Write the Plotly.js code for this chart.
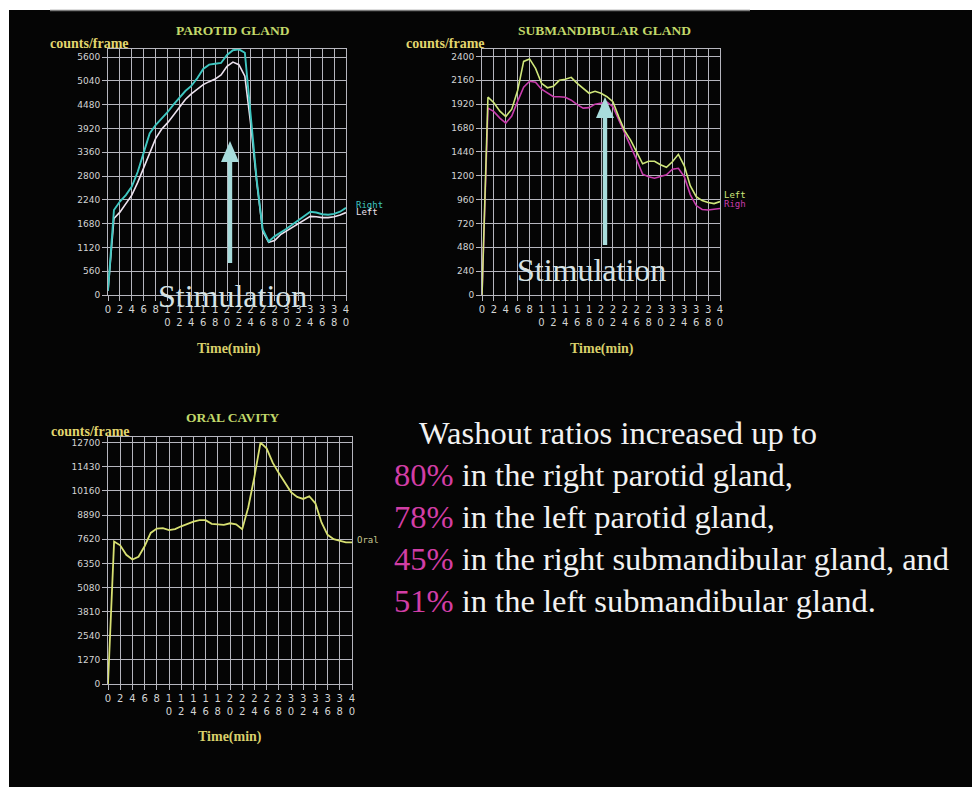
<!DOCTYPE html>
<html>
<head>
<meta charset="utf-8">
<script src="https://cdn.plot.ly/plotly-3.0.1.min.js"></script>
<style>
html,body{margin:0;padding:0;background:#fff;}
#chart{width:972px;height:787px;}
</style>
</head>
<body>
<div id="chart"></div>
<script>
// ---------- data ----------
const time = [0,1,2,3,4,5,6,7,8,9,10,11,12,13,14,15,16,17,18,19,20,21,22,23,24,25,26,27,28,29,30,31,32,33,34,35,36,37,38,39,40];
const xTickVals = [0,2,4,6,8,10,12,14,16,18,20,22,24,26,28,30,32,34,36,38,40];
const xTickText = ['0','2','4','6','8','1<br>0','1<br>2','1<br>4','1<br>6','1<br>8','2<br>0','2<br>2','2<br>4','2<br>6','2<br>8','3<br>0','3<br>2','3<br>4','3<br>6','3<br>8','4<br>0'];

const parotidTicks = [0,560,1120,1680,2240,2800,3360,3920,4480,5040,5600];
const subTicks = [0,240,480,720,960,1200,1440,1680,1920,2160,2400];
const oralTicks = [0,1270,2540,3810,5080,6350,7620,8890,10160,11430,12700];

const parotidRight = [100,2000,2200,2350,2550,2900,3350,3800,4000,4150,4300,4480,4650,4800,4920,5100,5320,5420,5440,5460,5650,5760,5780,5700,4200,2700,1550,1260,1380,1460,1560,1660,1760,1850,1960,1940,1900,1890,1910,1960,2050];
const parotidLeft  = [100,1800,1950,2150,2350,2650,3000,3350,3680,3900,4050,4230,4420,4600,4730,4850,4950,5020,5080,5180,5380,5480,5420,5150,4000,2650,1500,1240,1280,1420,1510,1600,1680,1760,1850,1840,1820,1820,1840,1880,1940];

const subLeft  = [0,1990,1935,1850,1795,1870,2060,2350,2375,2280,2130,2085,2100,2160,2170,2190,2130,2080,2030,2050,2030,1995,1945,1790,1650,1555,1440,1320,1345,1345,1310,1285,1340,1415,1300,1100,990,950,930,920,940];
const subRight = [0,1880,1845,1780,1730,1800,1950,2090,2150,2140,2070,2030,1995,1995,1990,1960,1915,1880,1885,1920,1930,1940,1895,1760,1640,1500,1360,1215,1190,1175,1190,1210,1265,1275,1190,1010,900,860,855,860,870];

const oral = [0,7500,7300,6800,6550,6700,7250,7950,8180,8200,8100,8150,8300,8420,8550,8620,8620,8430,8390,8380,8460,8400,8150,9300,10900,12700,12400,11650,11100,10600,10100,9850,9740,9880,9510,8500,7850,7620,7550,7450,7450];

const textLines = [
  {lead:'', rest:'Washout ratios increased up to'},
  {lead:'80%', rest:' in the right parotid gland,'},
  {lead:'78%', rest:' in the left parotid gland,'},
  {lead:'45%', rest:' in the right submandibular gland, and'},
  {lead:'51%', rest:' in the left submandibular gland.'}
];

// ---------- helpers ----------
const W = 972, H = 787;
const PX = x => x / W;
const PY = y => 1 - y / H;

const gridCol = '#b6b6be';
const tickFontY = {family:'DejaVu Sans', size:9, color:'#d4d4d4'};
const tickFontX = {family:'DejaVu Sans', size:10, color:'#d4d4d4'};

function xAxis(l, r, anchor){
  return {domain:[PX(l),PX(r)], anchor:anchor, range:[0,40], tickmode:'array',
    tickvals:xTickVals, ticktext:xTickText, tickangle:0,
    showgrid:true, gridcolor:gridCol, gridwidth:1, zeroline:false,
    showline:true, mirror:true, linecolor:gridCol, linewidth:1,
    ticks:'outside', ticklen:5, tickcolor:gridCol, tickfont:tickFontX, fixedrange:true};
}
function yAxis(top, bottom, max, ticks, anchor){
  return {domain:[PY(bottom),PY(top)], anchor:anchor, range:[0,max], tickmode:'array',
    tickvals:ticks, ticktext:ticks.map(String),
    showgrid:true, gridcolor:gridCol, gridwidth:1, zeroline:false,
    showline:true, mirror:true, linecolor:gridCol, linewidth:1,
    ticks:'outside', ticklen:5, tickcolor:gridCol, tickfont:tickFontY, fixedrange:true};
}

const lw = 1.6;
const traces = [
  {x:time, y:parotidLeft, xaxis:'x', yaxis:'y', mode:'lines', line:{color:'#ece2ee', width:lw}, name:'Left'},
  {x:time, y:parotidRight, xaxis:'x', yaxis:'y', mode:'lines', line:{color:'#3ec6c0', width:lw+0.3}, name:'Right'},
  {x:time, y:subRight, xaxis:'x2', yaxis:'y2', mode:'lines', line:{color:'#c83cac', width:lw}, name:'Righ'},
  {x:time, y:subLeft, xaxis:'x2', yaxis:'y2', mode:'lines', line:{color:'#cfe67a', width:lw}, name:'Left'},
  {x:time, y:oral, xaxis:'x3', yaxis:'y3', mode:'lines', line:{color:'#d8e072', width:lw+0.2}, name:'Oral'}
];

const titleFont = {family:'Liberation Serif', size:13.5, color:'#c2d86a'};
const cfFont = {family:'Liberation Serif', size:14, color:'#e2d66e'};
const timeFont = {family:'Liberation Serif', size:14, color:'#d8cf6a'};
const labFont = (c) => ({family:'DejaVu Sans Mono', size:9, color:c});
const stimFont = {family:'Liberation Serif', size:32, color:'#d6e2e4'};

function ann(text, x, y, font, xanchor){
  return {text:text, x:PX(x), y:PY(y), xref:'paper', yref:'paper', showarrow:false,
    font:font, xanchor:xanchor||'center', yanchor:'middle'};
}

const annotations = [
  ann('<b>PAROTID GLAND</b>', 233, 30, titleFont),
  ann('<b>SUBMANDIBULAR GLAND</b>', 604, 30, titleFont),
  ann('<b>ORAL CAVITY</b>', 232, 418, titleFont),
  ann('<b>counts/frame</b>', 48, 43, cfFont, 'left'),
  ann('<b>counts/frame</b>', 404, 43, cfFont, 'left'),
  ann('<b>counts/frame</b>', 49, 431, cfFont, 'left'),
  ann('<b>Time(min)</b>', 229, 349, timeFont),
  ann('<b>Time(min)</b>', 602, 349, timeFont),
  ann('<b>Time(min)</b>', 230, 737, timeFont),
  ann('Right', 354, 205, labFont('#3ec6c0'), 'left'),
  ann('Left', 354, 212, labFont('#ece2ee'), 'left'),
  ann('Left', 722, 195, labFont('#cfe67a'), 'left'),
  ann('Righ', 722, 204, labFont('#c83cac'), 'left'),
  ann('Oral', 355, 540, labFont('#c8c890'), 'left'),
  ann('Stimulation', 232, 296, stimFont),
  ann('Stimulation', 591, 270, stimFont)
];

const txtFont = {family:'Liberation Serif', size:32.5, color:'#f2f2f2'};
const magenta = '#d23ea6';
const lineY = [433, 475, 517, 559, 601];
textLines.forEach((ln, i) => {
  const t = ln.lead ? '<span style="color:' + magenta + '">' + ln.lead + '</span>' + ln.rest : ln.rest;
  annotations.push(ann(t, i === 0 ? 417 : 392, lineY[i], txtFont, 'left'));
});

const arrowCol = '#a8dcdc';
function arrowShapes(x, tip, tail){
  const hw = 9, hh = 21, sw = 2.2;
  return [
    {type:'rect', xref:'paper', yref:'paper', x0:PX(x-sw), x1:PX(x+sw), y0:PY(tail), y1:PY(tip+hh-1),
      fillcolor:arrowCol, line:{width:0}},
    {type:'path', xref:'paper', yref:'paper',
      path:'M '+PX(x)+' '+PY(tip)+' L '+PX(x-hw)+' '+PY(tip+hh)+' L '+PX(x+hw)+' '+PY(tip+hh)+' Z',
      fillcolor:arrowCol, line:{width:0}}
  ];
}

const shapes = [
  {type:'rect', xref:'paper', yref:'paper', x0:0, x1:PX(9), y0:0, y1:1, fillcolor:'#ffffff', line:{width:0}},
  {type:'rect', xref:'paper', yref:'paper', x0:0, x1:1, y0:PY(10), y1:1, fillcolor:'#ffffff', line:{width:0}},
  {type:'line', xref:'paper', yref:'paper', x0:PX(50), x1:PX(750), y0:PY(10.5), y1:PY(10.5), line:{color:'#7a7a7a', width:1.5}}
].concat(arrowShapes(230, 141, 263)).concat(arrowShapes(605, 97, 245));

const layout = {
  width:W, height:H, margin:{l:0,r:0,t:0,b:0},
  paper_bgcolor:'#050505', plot_bgcolor:'#050505',
  showlegend:false,
  xaxis: xAxis(108, 346, 'y'),
  yaxis: yAxis(48.5, 295, 5800, parotidTicks, 'x'),
  xaxis2: xAxis(482, 720, 'y2'),
  yaxis2: yAxis(48.5, 295, 2480, subTicks, 'x2'),
  xaxis3: xAxis(108, 352, 'y3'),
  yaxis3: yAxis(437, 684, 13000, oralTicks, 'x3'),
  annotations: annotations,
  shapes: shapes
};

Plotly.newPlot('chart', traces, layout, {displayModeBar:false, staticPlot:true});
</script>
</body>
</html>
